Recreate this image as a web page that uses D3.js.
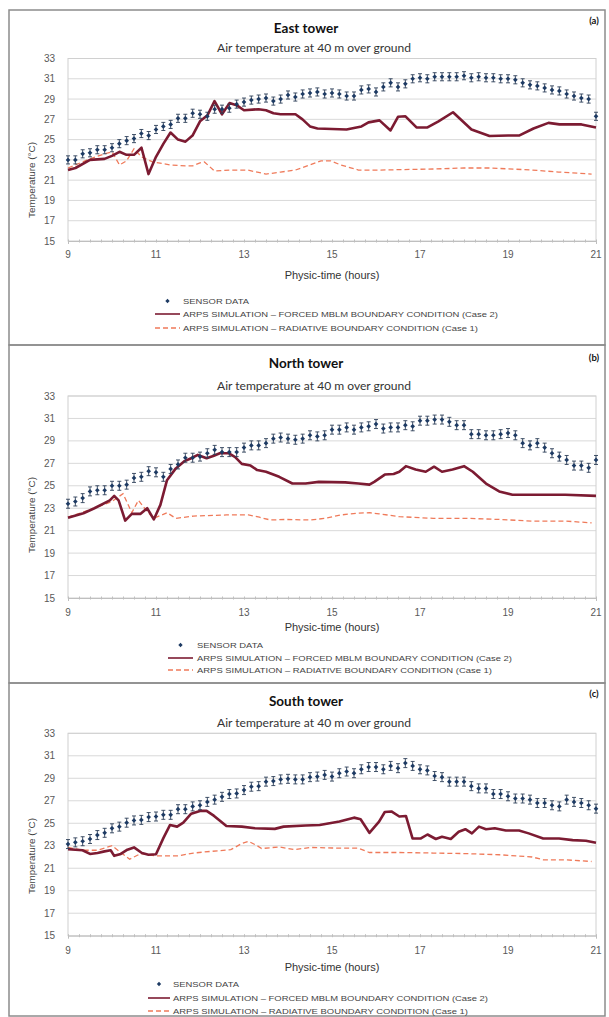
<!DOCTYPE html>
<html><head><meta charset="utf-8">
<script src="https://cdn.jsdelivr.net/npm/d3@7/dist/d3.min.js"></script>
<style>body{margin:0;background:#fff}svg{display:block}</style>
</head><body>
<svg id="c" width="609" height="1017"></svg>
<script>
// ---------------- DATA ----------------
const xTickLabels = [9, 11, 13, 15, 17, 19, 21];
const yTickLabels = [15, 17, 19, 21, 23, 25, 27, 29, 31, 33];
const sensorHours = d3.range(73).map(i => 9 + i / 6); // 10-minute samples 9:00..21:00
const sensorError = 0.4;

const eastSensor = [23.0,23.0,23.6,23.7,24.0,24.0,24.2,24.6,24.9,25.1,25.6,25.4,26.0,26.3,26.5,27.1,27.1,27.6,27.5,27.3,
  28.0,28.0,28.1,28.5,28.7,28.9,29.0,29.1,28.8,29.0,29.4,29.2,29.5,29.6,29.7,29.5,29.6,29.5,29.3,29.3,
  29.9,30.0,29.7,30.2,30.6,30.2,30.5,31.0,31.1,31.0,31.2,31.2,31.2,31.2,31.3,31.1,31.2,31.1,31.1,31.0,
  31.0,30.9,30.6,30.4,30.3,30.1,29.9,29.8,29.5,29.3,29.1,29.0,27.3];
const eastForced = [[9.0,22.0],[9.17,22.2],[9.5,23.0],[9.83,23.1],[10.0,23.4],[10.17,23.8],[10.33,23.5],[10.5,23.5],[10.67,24.2],[10.83,21.6],[11.0,23.3],[11.17,24.6],[11.33,25.7],[11.5,25.0],[11.67,24.8],[11.83,25.4],[12.0,26.8],[12.17,27.4],[12.33,28.8],[12.5,27.5],[12.67,28.6],[12.83,28.4],[13.0,27.9],[13.33,28.0],[13.5,27.9],[13.67,27.6],[13.83,27.5],[14.17,27.5],[14.33,27.0],[14.5,26.3],[14.67,26.1],[15.33,26.0],[15.67,26.3],[15.83,26.7],[16.08,26.9],[16.33,25.9],[16.5,27.25],[16.67,27.3],[16.92,26.2],[17.17,26.2],[17.42,26.8],[17.75,27.7],[18.17,26.0],[18.58,25.35],[19.0,25.4],[19.25,25.4],[19.58,26.1],[19.92,26.65],[20.17,26.5],[20.67,26.5],[21.0,26.2]];
const eastRadiative = [[9.0,22.2],[9.5,23.1],[9.83,23.6],[10.0,23.8],[10.17,22.5],[10.33,22.9],[10.5,24.1],[10.67,23.3],[10.92,22.8],[11.33,22.5],[11.67,22.4],[11.83,22.4],[12.0,22.7],[12.1,22.8],[12.33,21.9],[12.67,22.0],[13.08,22.0],[13.5,21.6],[13.83,21.8],[14.17,22.0],[14.5,22.5],[14.75,22.9],[14.97,22.9],[15.2,22.5],[15.6,22.0],[16.1,22.0],[17.3,22.1],[18.0,22.2],[18.6,22.2],[19.55,22.0],[20.15,21.8],[20.9,21.6]];

const northSensor = [23.4,23.6,23.9,24.5,24.6,24.6,25.0,25.0,25.1,25.7,25.8,26.3,26.2,25.8,26.5,26.9,27.5,27.5,27.6,27.9,
  28.2,28.0,28.0,28.0,28.4,28.6,28.6,28.8,29.2,29.3,29.2,29.1,29.2,29.5,29.4,29.5,30.0,30.0,30.2,30.0,
  30.2,30.3,30.5,30.1,30.2,30.2,30.4,30.3,30.8,30.8,30.9,30.9,30.7,30.4,30.4,29.6,29.6,29.5,29.5,29.6,
  29.7,29.5,28.8,28.6,28.8,28.4,27.9,27.6,27.3,26.8,26.8,26.6,27.3];
const northForced = [[9.0,22.15],[9.35,22.55],[9.6,23.0],[9.95,23.7],[10.05,24.1],[10.15,23.7],[10.3,21.9],[10.45,22.5],[10.65,22.5],[10.8,23.0],[10.95,22.0],[11.1,23.3],[11.25,25.5],[11.45,26.55],[11.65,27.2],[11.8,27.45],[11.95,27.75],[12.15,27.45],[12.3,27.65],[12.45,27.9],[12.65,27.9],[12.8,27.55],[12.95,26.95],[13.15,26.8],[13.3,26.4],[13.5,26.25],[13.8,25.8],[14.1,25.2],[14.4,25.2],[14.7,25.35],[15.3,25.3],[15.6,25.2],[15.85,25.1],[15.96,25.35],[16.2,26.0],[16.4,26.05],[16.53,26.25],[16.68,26.75],[16.9,26.45],[17.13,26.25],[17.32,26.7],[17.5,26.25],[17.74,26.45],[18.0,26.75],[18.2,26.25],[18.5,25.2],[18.8,24.5],[19.1,24.2],[19.55,24.2],[20.3,24.2],[21.0,24.1]];
const northRadiative = [[9.0,22.2],[9.6,23.0],[10.0,23.6],[10.25,24.3],[10.45,22.6],[10.6,23.7],[10.8,22.7],[10.95,22.1],[11.25,22.6],[11.45,22.1],[11.85,22.3],[12.6,22.4],[13.1,22.4],[13.35,22.2],[13.6,21.95],[13.95,22.0],[14.5,21.95],[14.85,22.1],[15.2,22.4],[15.55,22.55],[15.85,22.6],[16.07,22.5],[16.53,22.25],[17.3,22.1],[18.05,22.1],[18.8,22.0],[19.55,21.85],[20.3,21.85],[20.9,21.7]];

const southSensor = [23.15,23.3,23.4,23.6,23.95,24.15,24.55,24.7,25.05,25.25,25.3,25.55,25.6,25.75,25.75,26.25,26.25,26.5,26.6,26.9,
  27.1,27.35,27.6,27.65,27.95,28.25,28.3,28.7,28.75,28.9,28.95,28.9,28.9,29.1,29.15,29.3,29.15,29.45,29.6,29.45,
  29.8,30.0,30.0,29.8,30.1,29.9,30.35,30.1,29.8,29.7,29.2,29.1,28.7,28.7,28.7,28.3,28.1,28.1,27.6,27.6,
  27.4,27.2,27.2,27.1,26.8,26.8,26.6,26.5,27.1,26.9,26.8,26.6,26.3];
const southForced = [[9.0,22.7],[9.17,22.65],[9.33,22.6],[9.5,22.27],[9.67,22.35],[9.83,22.5],[9.97,22.6],[10.05,22.1],[10.2,22.27],[10.35,22.65],[10.5,22.85],[10.68,22.35],[10.83,22.2],[11.0,22.25],[11.17,23.7],[11.32,24.85],[11.48,24.7],[11.62,25.05],[11.8,25.85],[12.0,26.1],[12.15,26.1],[12.32,25.65],[12.6,24.75],[12.95,24.7],[13.25,24.55],[13.7,24.5],[13.9,24.7],[14.4,24.8],[14.72,24.85],[15.17,25.15],[15.5,25.5],[15.65,25.35],[15.85,24.15],[16.07,25.15],[16.2,26.0],[16.35,26.05],[16.53,25.6],[16.68,25.65],[16.83,23.65],[17.02,23.65],[17.17,24.0],[17.36,23.6],[17.5,23.8],[17.7,23.6],[17.88,24.25],[18.03,24.47],[18.18,24.1],[18.34,24.7],[18.5,24.47],[18.7,24.55],[18.95,24.35],[19.25,24.35],[19.47,24.1],[19.8,23.65],[20.16,23.65],[20.47,23.5],[20.77,23.45],[21.0,23.27]];
const southRadiative = [[9.0,22.85],[9.35,22.6],[9.67,22.6],[10.0,23.0],[10.4,21.8],[10.65,22.3],[11.0,22.1],[11.5,22.1],[11.85,22.35],[12.25,22.5],[12.7,22.65],[12.95,23.2],[13.1,23.4],[13.3,23.0],[13.4,22.75],[13.8,22.9],[14.15,22.65],[14.5,22.85],[15.0,22.8],[15.6,22.78],[15.85,22.4],[16.53,22.4],[17.3,22.35],[18.05,22.3],[18.8,22.2],[19.55,22.0],[19.8,21.75],[20.3,21.75],[20.9,21.6]];

const titles = ["East tower", "North tower", "South tower"];
const panelTags = ["(a)", "(b)", "(c)"];
const subtitle = "Air temperature at 40 m over ground";
const xAxisTitle = "Physic-time (hours)";
const yAxisTitle = "Temperature (°C)";
const legendLabels = ["SENSOR DATA",
  "ARPS SIMULATION \u2013 FORCED  MBLM BOUNDARY  CONDITION  (Case 2)",
  "ARPS SIMULATION \u2013 RADIATIVE  BOUNDARY CONDITION  (Case 1)"];

// ---------------- LAYOUT ----------------
const layouts = [
  {top:10, bottom:345, titleY:28, subY:47, tagY:20, pTop:58.5, pBot:241, tickY:254, axY:275, yTitleY:180,
   leg:{x0:155, x1:180, tx:183, rows:[301,314,328]}},
  {top:345, bottom:683, titleY:363, subY:385, tagY:357, pTop:396, pBot:598, tickY:612, axY:627, yTitleY:515,
   leg:{x0:168, x1:193, tx:197, rows:[645,658,670]}},
  {top:683, bottom:1016, titleY:701, subY:722, tagY:693, pTop:733.3, pBot:935.7, tickY:950, axY:967, yTitleY:856,
   leg:{x0:148, x1:170, tx:173, rows:[984,998,1011]}}
];
const series = [
  {sensor:eastSensor, forced:eastForced, rad:eastRadiative},
  {sensor:northSensor, forced:northForced, rad:northRadiative},
  {sensor:southSensor, forced:southForced, rad:southRadiative}
];
const legendWidths = [66, 315, 295];

const C = {forced:"#7c1b32", rad:"#ef7a5a", sensor:"#1d3a63", err:"#2c3e58", grid:"#d9d9d9", axis:"#bfbfbf", text:"#595959", frame:"#8c8c8c"};
const svg = d3.select("#c");
const plotX0 = 68, plotX1 = 596;

layouts.forEach((L, i) => {
  const g = svg.append("g");
  const S = series[i];
  // panel frame
  g.append("rect").attr("x", 9).attr("y", L.top).attr("width", 596).attr("height", L.bottom - L.top)
    .attr("fill", "none").attr("stroke", C.frame).attr("stroke-width", 1.5);

  const x = d3.scaleLinear().domain([9, 21]).range([plotX0, plotX1]);
  const y = d3.scaleLinear().domain([15, 33]).range([L.pBot, L.pTop]);

  // titles
  g.append("text").attr("x", 306).attr("y", L.titleY).attr("text-anchor", "middle").attr("dominant-baseline", "central")
    .attr("font-family", "Lato, 'Open Sans', sans-serif").attr("font-weight", "bold").attr("font-size", 13.5).attr("fill", "#111").text(titles[i]);
  g.append("text").attr("x", 314).attr("y", L.subY).attr("text-anchor", "middle").attr("dominant-baseline", "central")
    .attr("font-family", "Lato, 'Open Sans', sans-serif").attr("font-size", 11.5).attr("fill", "#333")
    .attr("textLength", 194).attr("lengthAdjust", "spacingAndGlyphs").text(subtitle);
  g.append("text").attr("x", 594).attr("y", L.tagY).attr("text-anchor", "middle").attr("dominant-baseline", "central")
    .attr("font-family", "Lato, sans-serif").attr("font-weight", "bold").attr("font-size", 9.5).attr("fill", "#111").text(panelTags[i]);

  // grid
  g.append("g").selectAll("line").data(yTickLabels.filter(v => v > 15)).join("line")
    .attr("x1", plotX0).attr("x2", plotX1).attr("y1", d => y(d)).attr("y2", d => y(d))
    .attr("stroke", C.grid).attr("stroke-width", 1);
  // plot border
  g.append("rect").attr("x", plotX0).attr("y", y(33)).attr("width", plotX1 - plotX0).attr("height", y(15) - y(33))
    .attr("fill", "none").attr("stroke", "#d0d0d0").attr("stroke-width", 1);

  // x axis with minor ticks
  const xAxis = d3.axisBottom(x).tickValues(d3.range(0, 49).map(k => 9 + k * 0.25)).tickSize(3).tickFormat("");
  const ax = g.append("g").attr("transform", `translate(0,${L.pBot})`).call(xAxis);
  ax.select(".domain").attr("stroke", C.axis);
  ax.selectAll(".tick line").attr("stroke", C.axis).attr("y1", -1.5).attr("y2", 1.5);
  g.append("g").selectAll("text").data(xTickLabels).join("text")
    .attr("x", d => x(d)).attr("y", L.tickY).attr("text-anchor", "middle").attr("dominant-baseline", "central")
    .attr("font-family", "'Liberation Sans', Arial, sans-serif").attr("font-size", 10).attr("fill", C.text).text(d => d);
  // y labels
  g.append("g").selectAll("text").data(yTickLabels).join("text")
    .attr("x", 55).attr("y", d => y(d)).attr("text-anchor", "end").attr("dominant-baseline", "central")
    .attr("font-family", "'Liberation Sans', Arial, sans-serif").attr("font-size", 10).attr("fill", C.text).text(d => d);

  // axis titles
  g.append("text").attr("x", 332).attr("y", L.axY).attr("text-anchor", "middle").attr("dominant-baseline", "central")
    .attr("font-family", "'Liberation Sans', Arial, sans-serif").attr("font-size", 11).attr("fill", "#333").text(xAxisTitle);
  g.append("text").attr("transform", `translate(31,${L.yTitleY}) rotate(-90)`).attr("text-anchor", "middle").attr("dominant-baseline", "central")
    .attr("font-family", "'Liberation Sans', Arial, sans-serif").attr("font-size", 9.5).attr("fill", "#444")
    .attr("textLength", 76).attr("lengthAdjust", "spacingAndGlyphs").text(yAxisTitle);

  // radiative (dashed)
  const line = d3.line().x(d => x(d[0])).y(d => y(d[1])).curve(d3.curveLinear);
  g.append("path").datum(S.rad).attr("d", line).attr("fill", "none").attr("stroke", C.rad)
    .attr("stroke-width", 1.3).attr("stroke-dasharray", "5,3");
  // forced (solid)
  g.append("path").datum(S.forced).attr("d", line).attr("fill", "none").attr("stroke", C.forced)
    .attr("stroke-width", 2.6).attr("stroke-linejoin", "round");

  // sensor with error bars
  const sd = S.sensor.map((v, k) => [sensorHours[k], v]);
  const eb = g.append("g").attr("stroke", C.err).attr("stroke-width", 0.9);
  sd.forEach(d => {
    const cx = x(d[0]), yh = y(d[1] + sensorError), yl = y(d[1] - sensorError);
    eb.append("line").attr("x1", cx).attr("x2", cx).attr("y1", yh).attr("y2", yl);
    eb.append("line").attr("x1", cx - 2).attr("x2", cx + 2).attr("y1", yh).attr("y2", yh);
    eb.append("line").attr("x1", cx - 2).attr("x2", cx + 2).attr("y1", yl).attr("y2", yl);
  });
  g.append("g").selectAll("path").data(sd).join("path")
    .attr("d", d3.symbol(d3.symbolDiamond2, 14))
    .attr("transform", d => `translate(${x(d[0])},${y(d[1])})`).attr("fill", C.sensor);

  // legend
  const lg = g.append("g");
  const lx = (L.leg.x0 + L.leg.x1) / 2;
  lg.append("path").attr("d", d3.symbol(d3.symbolDiamond2, 12)).attr("transform", `translate(${lx},${L.leg.rows[0]})`).attr("fill", C.sensor);
  lg.append("line").attr("x1", L.leg.x0).attr("x2", L.leg.x1).attr("y1", L.leg.rows[1]).attr("y2", L.leg.rows[1]).attr("stroke", C.forced).attr("stroke-width", 1.6);
  lg.append("line").attr("x1", L.leg.x0).attr("x2", L.leg.x1).attr("y1", L.leg.rows[2]).attr("y2", L.leg.rows[2]).attr("stroke", C.rad).attr("stroke-width", 1.4).attr("stroke-dasharray", "5,3");
  legendLabels.forEach((t, k) => {
    lg.append("text").attr("x", L.leg.tx).attr("y", L.leg.rows[k]).attr("dominant-baseline", "central")
      .attr("font-family", "'Liberation Sans', Arial, sans-serif").attr("font-size", 7.5).attr("fill", "#444")
      .attr("textLength", legendWidths[k]).attr("lengthAdjust", "spacingAndGlyphs").text(t);
  });
});
</script>
</body></html>
